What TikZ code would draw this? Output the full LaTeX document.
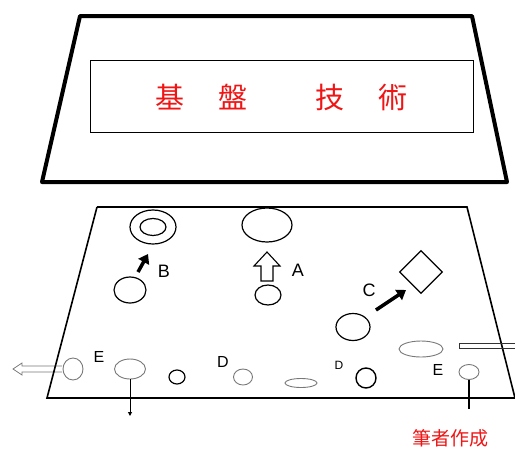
\documentclass[tikz,border=0pt]{standalone}
\usepackage{fontspec}
\setmainfont{Liberation Sans}
\newfontfamily\cjk{Noto Sans CJK JP}
\usetikzlibrary{arrows.meta,shapes.geometric}
\definecolor{redtxt}{RGB}{240,20,20}
\definecolor{grayline}{RGB}{120,120,120}
\tikzset{
  lbl/.style={font=\fontsize{18}{18}\selectfont, inner sep=0pt},
  blackarrow/.style={line width=3.5pt, -{Triangle[length=9pt,width=12pt]}},
  cjkred/.style={text=redtxt, inner sep=0pt},
  bell/.style={draw, ellipse, line width=1.2pt, inner sep=0pt},
  gell/.style={draw=grayline, ellipse, line width=0.9pt, inner sep=0pt},
}
\begin{document}
\begin{tikzpicture}[x=1pt,y=-1pt]
\useasboundingbox (0,0) rectangle (515,448);
% top trapezoid
\draw[line width=4pt, line join=round] (80,16) -- (472,16) -- (507,182) -- (42,182) -- cycle;
\node[draw, line width=0.8pt, minimum width=383pt, minimum height=72pt, inner sep=0pt] (board) at (281.5,96) {};
\node[cjkred, font=\cjk\fontsize{29}{29}\selectfont] (k1) at (170,97) {基};
\node[cjkred, font=\cjk\fontsize{29}{29}\selectfont] (k2) at (233,97) {盤};
\node[cjkred, font=\cjk\fontsize{29}{29}\selectfont] (k3) at (330,97) {技};
\node[cjkred, font=\cjk\fontsize{29}{29}\selectfont] (k4) at (393,97) {術};

% left hollow arrow (E)
\draw[grayline, line width=0.8pt] (62,366) -- (22,366) -- (22,363) -- (13,369) -- (22,375) -- (22,372) -- (62,372);

% bottom trapezoid
\draw[line width=1.6pt] (97,207) -- (467,207) -- (515,398);
\draw[line width=1.6pt] (97,207) -- (47,398) -- (515,398);

% B
\node[bell, minimum width=46pt, minimum height=34pt] (btarget) at (153,227) {};
\node[bell, minimum width=26pt, minimum height=17pt] (btargetin) at (153,227) {};
\node[bell, minimum width=32pt, minimum height=26pt] (bsrc) at (130,290) {};
\coordinate (bs) at (138,272);
\coordinate (bt) at (148,254);
\draw[blackarrow] (bs) -- (bt);
\node[lbl] (lB) at (164,271) {B};

% A
\node[bell, minimum width=50pt, minimum height=34pt] (atarget) at (267,225) {};
\node[bell, minimum width=26pt, minimum height=20pt] (asrc) at (268,295) {};
\draw[line width=1.1pt, line join=miter] (261,281) -- (273,281) -- (273,266) -- (280,266) -- (267,252) -- (254,266) -- (261,266) -- cycle;
\node[lbl] (lA) at (298,270) {A};

% C
\node[draw, line width=1.2pt, minimum width=30pt, minimum height=30pt, inner sep=0pt, rotate=45] (ctarget) at (421,272) {};
\node[bell, minimum width=34pt, minimum height=27pt] (csrc) at (353,327) {};
\coordinate (cs) at (376,310);
\coordinate (ct) at (406,290);
\draw[blackarrow] (cs) -- (ct);
\node[lbl] (lC) at (369,290) {C};

% gray ellipse and right bar
\node[gell, minimum width=44pt, minimum height=16pt] (gell1) at (421,349) {};
\draw[line width=0.8pt, draw=black!80] (515,343) -- (459,343) -- (459,348) -- (515,348);

% bottom row
\node[gell, minimum width=20pt, minimum height=22pt] (e1) at (73,369) {};
\node[lbl, font=\fontsize{16}{16}\selectfont] (lE1) at (99,357) {E};
\node[gell, minimum width=31pt, minimum height=20pt] (e2) at (130,369) {};
\coordinate (e2d) at (130,416);
\draw[line width=1pt, -{Triangle[length=4pt,width=4pt]}] (e2.south) -- (e2d);
\node[bell, minimum width=16pt, minimum height=14pt] (o1) at (177,377) {};
\node[lbl, font=\fontsize{16}{16}\selectfont] (lD1) at (223,362) {D};
\node[gell, minimum width=19pt, minimum height=16pt] (o2) at (243,377) {};
\node[gell, minimum width=32pt, minimum height=9pt] (o3) at (301,383) {};
\node[lbl, font=\fontsize{12}{12}\selectfont] (lD2) at (339,365) {D};
\node[bell, line width=1.4pt, minimum width=20pt, minimum height=20pt] (o4) at (366,378) {};
\node[lbl, font=\fontsize{16}{16}\selectfont] (lE2) at (438,370) {E};
\node[gell, minimum width=20pt, minimum height=15pt] (e3) at (469,372) {};
\coordinate (e3d) at (469,409);
\draw[line width=1.1pt] (e3.south) -- (e3d);

\node[cjkred, font=\cjk\fontsize{19}{19}\selectfont] (author) at (450,438) {筆者作成};
\end{tikzpicture}
\end{document}
